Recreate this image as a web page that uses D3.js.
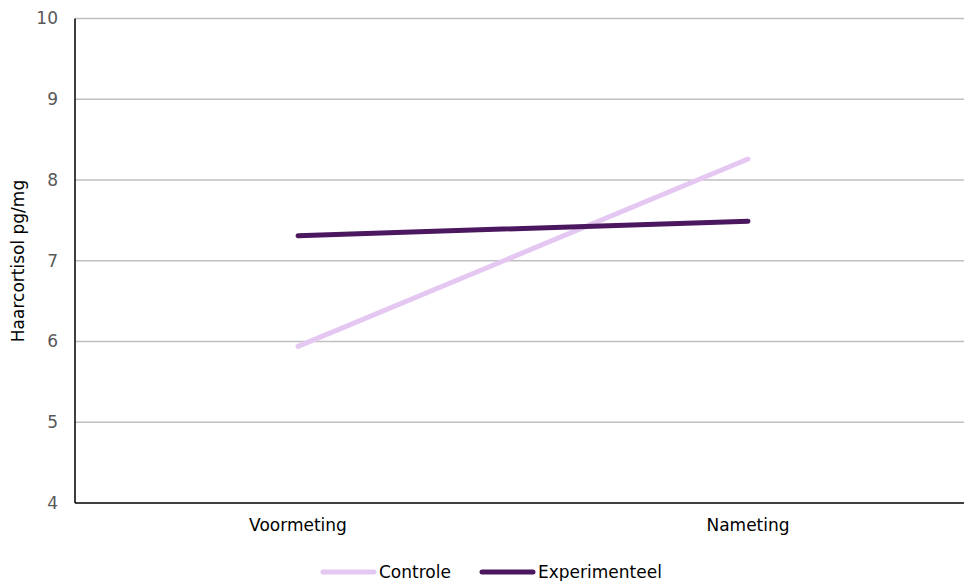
<!DOCTYPE html>
<html><head><meta charset="utf-8">
<script src="https://cdn.jsdelivr.net/npm/d3@7"></script>
<style>body{margin:0;background:#fff;} text{font-family:"DejaVu Sans",Verdana,sans-serif;}</style>
</head><body>
<svg id="c" width="964" height="581"></svg>
<script>
const categories = ["Voormeting", "Nameting"];
const controle = [5.94, 8.26];
const experimenteel = [7.31, 7.49];
const yTicks = [4, 5, 6, 7, 8, 9, 10];
const seriesNames = ["Controle", "Experimenteel"];
const colors = ["#e5c8f2", "#4b175f"];

(function () {
const svg = d3.select("#c");
const pLeft = 75, pRight = 964, pTop = 18.5, pBottom = 503;
const fs = 17;
const x = d3.scaleBand().domain(categories).range([73, 973]);
const y = d3.scaleLinear().domain([4, 10]).range([pBottom, pTop]);

svg.append("g").selectAll("line").data(yTicks.filter(d => d > 4)).join("line")
  .attr("x1", pLeft).attr("x2", pRight)
  .attr("y1", d => y(d)).attr("y2", d => y(d))
  .attr("stroke", "#c0c0c0").attr("stroke-width", 1.5);

svg.append("g").selectAll("text").data(yTicks).join("text")
  .attr("x", 58).attr("y", d => y(d)).attr("dy", "0.35em")
  .attr("text-anchor", "end").attr("font-size", fs).attr("fill", "#595959")
  .text(d => d);

svg.append("line").attr("x1", pLeft).attr("x2", pLeft).attr("y1", pTop).attr("y2", pBottom)
  .attr("stroke", "#000").attr("stroke-width", 1.5);
svg.append("line").attr("x1", pLeft).attr("x2", pRight).attr("y1", pBottom).attr("y2", pBottom)
  .attr("stroke", "#000").attr("stroke-width", 1.5);

svg.append("g").selectAll("text").data(categories).join("text")
  .attr("x", d => x(d) + x.bandwidth() / 2).attr("y", 531)
  .attr("text-anchor", "middle").attr("font-size", fs).attr("fill", "#000")
  .text(d => d);

svg.append("text").attr("transform", "translate(24,261) rotate(-90)")
  .attr("text-anchor", "middle").attr("font-size", fs).attr("fill", "#000")
  .text("Haarcortisol pg/mg");

const line = d3.line().x((d, i) => x(categories[i]) + x.bandwidth() / 2).y(d => y(d));
[controle, experimenteel].forEach((s, i) => {
  svg.append("path").datum(s).attr("d", line).attr("fill", "none")
    .attr("stroke", colors[i]).attr("stroke-width", 5).attr("stroke-linecap", "round");
});

const legendX = [323, 482];
seriesNames.forEach((n, i) => {
  svg.append("line").attr("x1", legendX[i]).attr("x2", legendX[i] + 51)
    .attr("y1", 572).attr("y2", 572).attr("stroke", colors[i]).attr("stroke-width", 5)
    .attr("stroke-linecap", "round");
  svg.append("text").attr("x", legendX[i] + 56).attr("y", 572).attr("dy", "0.35em")
    .attr("font-size", fs).attr("fill", "#000").text(n);
});
})();
</script>
</body></html>
